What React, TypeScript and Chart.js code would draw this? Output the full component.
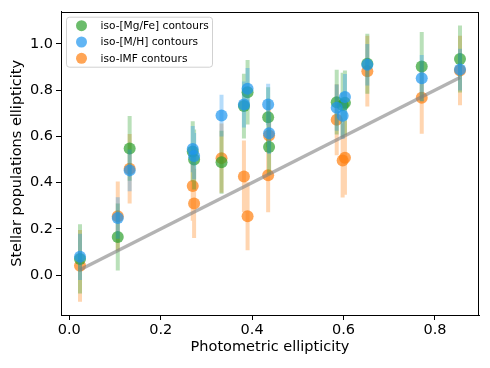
import React, { useEffect, useRef } from "react";
import { Chart, registerables } from "chart.js";

Chart.register(...registerables);

// Photometric ellipticity of each galaxy
const X_VALUES = [0.0234, 0.106, 0.132, 0.270, 0.273, 0.333, 0.382, 0.390, 0.435, 0.437, 0.585, 0.598, 0.603, 0.652, 0.771, 0.8547];
// iso-[Mg/Fe] contours
const MGFE_VALUES = [0.07, 0.165, 0.548, 0.535, 0.50, 0.488, 0.731, 0.791, 0.683, 0.554, 0.748, 0.735, 0.745, 0.914, 0.902, 0.935];
const MGFE_ERRORS = [0.15, 0.145, 0.14, 0.13, 0.13, 0.136, 0.14, 0.14, 0.13, 0.12, 0.14, 0.14, 0.14, 0.13, 0.15, 0.145];
// iso-[M/H] contours
const MH_VALUES = [0.079, 0.247, 0.453, 0.545, 0.515, 0.69, 0.738, 0.806, 0.738, 0.614, 0.724, 0.689, 0.77, 0.91, 0.852, 0.889];
const MH_ERRORS = [0.1, 0.09, 0.09, 0.1, 0.1, 0.09, 0.1, 0.09, 0.09, 0.09, 0.1, 0.1, 0.1, 0.09, 0.1, 0.09];
// iso-IMF contours
const IMF_VALUES = [0.040, 0.255, 0.46, 0.385, 0.31, 0.506, 0.427, 0.255, 0.432, 0.604, 0.672, 0.496, 0.508, 0.882, 0.767, 0.885];
const IMF_ERRORS = [0.155, 0.15, 0.15, 0.15, 0.15, 0.15, 0.155, 0.147, 0.16, 0.15, 0.154, 0.16, 0.16, 0.153, 0.156, 0.15];
// one-to-one line
const LINE_X = [0.0234, 0.8547];
const LINE_Y = [0.0234, 0.8547];

const X_TICKS = [0.0, 0.2, 0.4, 0.6, 0.8];
const Y_TICKS = [0.0, 0.2, 0.4, 0.6, 0.8, 1.0];

const SERIES_LABELS = ["iso-[Mg/Fe] contours", "iso-[M/H] contours", "iso-IMF contours"];
const X_TITLE = "Photometric ellipticity";
const Y_TITLE = "Stellar populations ellipticity";

const FONT = "'DejaVu Sans', sans-serif";
const GREEN = "rgba(44,160,44,0.7)";
const BLUE = "rgba(30,150,240,0.7)";
const ORANGE = "rgba(255,127,14,0.7)";
const GREEN_ERR = "rgba(44,160,44,0.33)";
const BLUE_ERR = "rgba(30,150,240,0.33)";
const ORANGE_ERR = "rgba(255,127,14,0.33)";

function errorData(vals: number[], errs: number[]) {
  const d: any[] = [];
  X_VALUES.forEach((x, i) => {
    d.push({ x, y: vals[i] - errs[i] });
    d.push({ x, y: vals[i] + errs[i] });
    d.push({ x, y: null });
  });
  return d;
}
function pointData(vals: number[]) {
  return X_VALUES.map((x, i) => ({ x, y: vals[i] }));
}

const framePlugin = {
  id: "frame",
  afterDatasetsDraw(chart: any) {
    const { ctx, chartArea: a } = chart;
    ctx.save();
    ctx.strokeStyle = "#000";
    ctx.lineWidth = 1;
    ctx.strokeRect(Math.round(a.left) + 0.5, Math.round(a.top) + 0.5, Math.round(a.right - a.left) - 1, Math.round(a.bottom - a.top));
    ctx.restore();
  },
};

const legendPlugin = {
  id: "boxLegend",
  afterDraw(chart: any) {
    const { ctx, chartArea: a } = chart;
    const colors = [GREEN, BLUE, ORANGE];
    const bx = a.left + 5.5, by = a.top + 5.5, bw = 146, bh = 50;
    ctx.save();
    ctx.beginPath();
    const r = 3;
    ctx.moveTo(bx + r, by);
    ctx.lineTo(bx + bw - r, by);
    ctx.quadraticCurveTo(bx + bw, by, bx + bw, by + r);
    ctx.lineTo(bx + bw, by + bh - r);
    ctx.quadraticCurveTo(bx + bw, by + bh, bx + bw - r, by + bh);
    ctx.lineTo(bx + r, by + bh);
    ctx.quadraticCurveTo(bx, by + bh, bx, by + bh - r);
    ctx.lineTo(bx, by + r);
    ctx.quadraticCurveTo(bx, by, bx + r, by);
    ctx.closePath();
    ctx.fillStyle = "rgba(255,255,255,0.8)";
    ctx.fill();
    ctx.strokeStyle = "rgba(204,204,204,0.9)";
    ctx.lineWidth = 1;
    ctx.stroke();
    ctx.font = `10.6px ${FONT}`;
    ctx.textBaseline = "middle";
    ctx.textAlign = "left";
    SERIES_LABELS.forEach((label, i) => {
      const cy = by + 8.5 + i * 16.3;
      ctx.beginPath();
      ctx.arc(bx + 15, cy, 5.5, 0, Math.PI * 2);
      ctx.fillStyle = colors[i];
      ctx.fill();
      ctx.fillStyle = "#000";
      ctx.fillText(label, bx + 34, cy + 0.5);
    });
    ctx.restore();
  },
};

export default function App() {
  const ref = useRef<HTMLCanvasElement>(null);
  useEffect(() => {
    if (!ref.current) return;
    Chart.defaults.font.family = FONT;
    const errDs = (vals: number[], errs: number[], color: string, order: number) => ({
      type: "line" as const,
      data: errorData(vals, errs),
      borderColor: color,
      borderWidth: 4,
      borderCapStyle: "butt",
      pointRadius: 0,
      spanGaps: false,
      showLine: true,
      order,
    });
    const ptDs = (vals: number[], color: string, label: string, order: number) => ({
      type: "scatter" as const,
      label,
      data: pointData(vals),
      backgroundColor: color,
      borderColor: color,
      pointRadius: 6,
      pointBorderWidth: 0,
      showLine: false,
      order,
    });
    const tickFont = { size: 14.5, family: FONT };
    const chart = new Chart(ref.current, {
      type: "scatter",
      data: {
        datasets: [
          ptDs(MGFE_VALUES, GREEN, SERIES_LABELS[0], 4),
          ptDs(MH_VALUES, BLUE, SERIES_LABELS[1], 2),
          ptDs(IMF_VALUES, ORANGE, SERIES_LABELS[2], 6),
          errDs(MGFE_VALUES, MGFE_ERRORS, GREEN_ERR, 5),
          errDs(MH_VALUES, MH_ERRORS, BLUE_ERR, 3),
          errDs(IMF_VALUES, IMF_ERRORS, ORANGE_ERR, 7),
          {
            type: "line" as const,
            data: LINE_X.map((x, i) => ({ x, y: LINE_Y[i] })),
            borderColor: "rgba(128,128,128,0.6)",
            borderWidth: 3.5,
            pointRadius: 0,
            showLine: true,
            order: 1,
          },
        ] as any,
      },
      options: {
        animation: false,
        responsive: false,
        devicePixelRatio: 1,
        events: [],
        layout: { padding: { left: 0, right: 11, top: 11, bottom: 0 } },
        plugins: { legend: { display: false }, tooltip: { enabled: false } },
        scales: {
          x: {
            type: "linear",
            min: -0.0182,
            max: 0.8963,
            afterBuildTicks: (s: any) => {
              s.ticks = X_TICKS.map((v) => ({ value: v }));
            },
            afterFit: (s: any) => {
              s.height = 53;
            },
            ticks: {
              callback: (v: any) => Number(v).toFixed(1),
              color: "#000",
              font: tickFont,
              padding: 2,
              maxRotation: 0,
            },
            grid: { display: true, drawOnChartArea: false, drawTicks: true, tickLength: 5, tickColor: "#000", tickWidth: 1, color: "#000" },
            border: { display: true, color: "#000", width: 1 },
            title: { display: true, text: X_TITLE, color: "#000", font: tickFont, padding: { top: 0, bottom: 12 } },
          },
          y: {
            type: "linear",
            min: -0.1726,
            max: 1.1394,
            afterBuildTicks: (s: any) => {
              s.ticks = Y_TICKS.map((v) => ({ value: v }));
            },
            afterFit: (s: any) => {
              s.width = 61;
            },
            ticks: {
              callback: (v: any) => Number(v).toFixed(1),
              color: "#000",
              font: tickFont,
              padding: 3,
            },
            grid: { display: true, drawOnChartArea: false, drawTicks: true, tickLength: 5, tickColor: "#000", tickWidth: 1, color: "#000" },
            border: { display: true, color: "#000", width: 1 },
            title: { display: true, text: Y_TITLE, color: "#000", font: tickFont, padding: { top: 8.5, bottom: 0 } },
          },
        },
      } as any,
      plugins: [framePlugin, legendPlugin],
    });
    return () => chart.destroy();
  }, []);
  return (
    <div style={{ position: "absolute", left: 0, top: 0, width: 490, height: 368, background: "#fff" }}>
      <canvas ref={ref} width={490} height={368} style={{ width: 490, height: 368, display: "block" }} />
    </div>
  );
}
